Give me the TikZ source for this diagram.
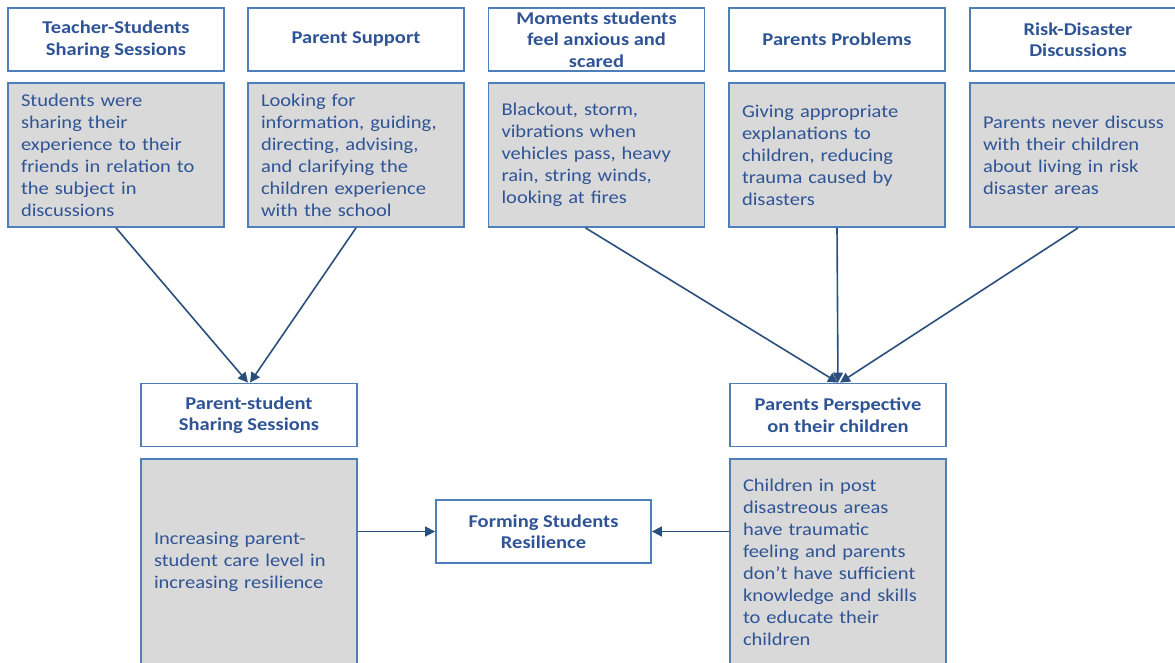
\documentclass[tikz,border=0pt]{standalone}
\usepackage{fontspec}
\setmainfont{Carlito}[FakeStretch=1.14]
\usetikzlibrary{arrows.meta}
\definecolor{bordc}{HTML}{4F7FB8}
\definecolor{txtc}{HTML}{2F5496}
\definecolor{arrc}{HTML}{2B4F7C}
\definecolor{grayf}{HTML}{D9D9D9}
\tikzset{
  hdr/.style={draw=bordc, line width=1.8pt, fill=white, minimum width=216pt, minimum height=63pt,
    align=center, text=txtc, font=\fontsize{18}{21.5}\selectfont\bfseries, inner sep=2pt},
  body/.style={draw=bordc, line width=1.8pt, fill=grayf, text width=190pt, inner xsep=13pt, inner ysep=2pt,
    align=left, text=txtc, font=\fontsize{18}{22}\selectfont},
  conn/.style={draw=arrc, line width=1.6pt, -{Triangle[length=10pt,width=10pt]}}
}
\begin{document}
\begin{tikzpicture}[x=1pt,y=-1pt]
\useasboundingbox (0,0) rectangle (1175,662);
\clip (0,0) rectangle (1175,662);
% top headers
\node[hdr] (h1) at (116,39.5) {Teacher-Students\\Sharing Sessions};
\node[hdr] (h2) at (356,39.5) {Parent Support};
\node[hdr] (h3) at (596.5,39.5) {Moments students\\feel anxious and\\scared};
\node[hdr] (h4) at (837,39.5) {Parents Problems};
\node[hdr] (h5) at (1078,39.5) {Risk-Disaster\\Discussions};
% top bodies
\node[body, minimum height=144pt] (g1) at (116,155) {Students were\\sharing their\\experience to their\\friends in relation to\\the subject in\\discussions};
\node[body, minimum height=144pt] (g2) at (356,155) {Looking for\\information, guiding,\\directing, advising,\\and clarifying the\\children experience\\with the school};
\node[body, minimum height=144pt] (g3) at (596.5,155) {Blackout, storm,\\vibrations when\\vehicles pass, heavy\\rain, string winds,\\looking at fires};
\node[body, minimum height=144pt] (g4) at (837,155) {Giving appropriate\\explanations to\\children, reducing\\trauma caused by\\disasters};
\node[body, minimum height=144pt] (g5) at (1078,155) {Parents never discuss\\with their children\\about living in risk\\disaster areas};
% middle
\node[hdr] (ps) at (249,415) {Parent-student\\Sharing Sessions};
\node[hdr] (pp) at (838,415) {Parents Perspective\\on their children};
\node[body, minimum height=206pt] (bl) at (249,562) {Increasing parent-\\student care level in\\increasing resilience};
\node[body, minimum height=206pt] (br) at (838,562) {Children in post\\disastreous areas\\have traumatic\\feeling and parents\\don’t have sufficient\\knowledge and skills\\to educate their\\children};
\node[hdr, minimum width=215pt] (fr) at (543.5,531.5) {Forming Students\\Resilience};
% connectors
\draw[conn] (g1.south) -- ([xshift=-1pt]ps.north);
\draw[conn] (g2.south) -- ([xshift=1pt]ps.north);
\draw[conn] ([xshift=-11pt]g3.south) -- (pp.north);
\draw[conn] (g4.south) -- (pp.north);
\draw[conn] (g5.south) -- ([xshift=2pt]pp.north);
\draw[conn] (fr.west -| bl.east) -- (fr.west);
\draw[conn] (fr.east -| br.west) -- (fr.east);
\end{tikzpicture}
\end{document}
